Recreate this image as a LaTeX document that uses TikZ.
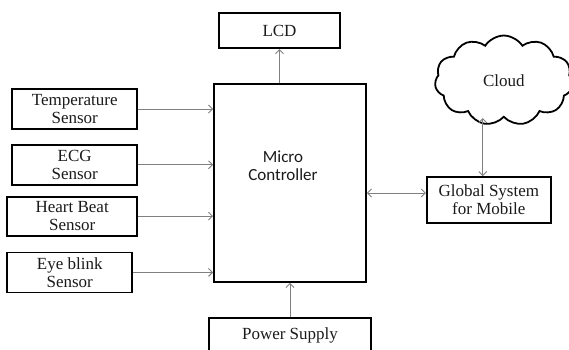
\documentclass[tikz,border=0pt]{standalone}
\usepackage{fontspec}
\setmainfont{Liberation Serif}
\setsansfont{Carlito}
\usetikzlibrary{arrows.meta, positioning, shapes.symbols}
\definecolor{linegray}{HTML}{7F7F7F}
\definecolor{textdark}{HTML}{1A1A1A}

\begin{document}
\begin{tikzpicture}[
    >={Straight Barb[length=4pt,width=8pt]},
    font=\fontsize{17}{18}\selectfont,
    every node/.style={inner sep=0pt, text=textdark},
    block/.style={
        draw=black, line width=1.8pt, align=center,
        minimum width=125pt, minimum height=40pt
    },
    cloudbox/.style={
        draw=black, line width=1.8pt, cloud, cloud puffs=11,
        cloud puff arc=115, aspect=1.5,
        minimum width=138pt, minimum height=90pt
    },
    sanslabel/.style={font=\sffamily\fontsize{17}{18}\selectfont, align=center},
    arrstyle/.style={->, line width=0.9pt, linegray},
    dblarr/.style={<->, line width=0.9pt, linegray},
]

% frame of the whole figure, micro controller sits at the origin
\useasboundingbox (-290pt,183pt) rectangle (279pt,-166pt);

% === Micro controller ===
\node[block, minimum width=152pt, minimum height=198pt] (mc) at (0,0) {};
\node[sanslabel] (mctext) at ([xshift=-7pt, yshift=17pt]mc.center) {Micro\\Controller};

% === LCD and power supply ===
\node[block, minimum width=121pt, minimum height=35pt, above=34pt of mc, xshift=-10.5pt] (lcd) {LCD};
\node[block, minimum width=162pt, minimum height=36pt, below=34pt of mc] (power) {Power Supply};

% === Sensors ===
\node[block, left=75pt of mc.north west, anchor=north east, yshift=-5pt] (temp) {Temperature\\Sensor};
\node[block, below=14pt of temp] (ecg) {ECG\\Sensor};
\node[block, minimum width=130pt, minimum height=39pt, below=10pt of ecg.south east, anchor=north east] (heart) {Heart Beat\\Sensor};
\node[block, below=15pt of heart.south west, anchor=north west] (eye) {Eye blink\\Sensor};

% === GSM and cloud ===
\node[block, minimum width=124pt, minimum height=46pt, right=59pt of mc, yshift=-17pt] (gsm) {Global System\\for Mobile};
\node[cloudbox, above=58pt of gsm, xshift=15pt] (cloud) {Cloud};

% === Arrows ===
\foreach \s in {temp, ecg, heart, eye} {
    \draw[arrstyle] (\s.east) -- (\s.east -| mc.west);
}
\draw[arrstyle] (lcd.south |- mc.north) -- (lcd.south);
\draw[arrstyle] (power.north) -- (mc.south);

\coordinate (gsmin) at ([yshift=7pt]gsm.west);
\coordinate (gsmtop) at ([xshift=-6pt]gsm.north);
\draw[dblarr] (mc.east |- gsmin) -- (gsmin);
\draw[dblarr] (gsmtop) -- (gsmtop |- cloud.south);

\end{tikzpicture}
\end{document}
